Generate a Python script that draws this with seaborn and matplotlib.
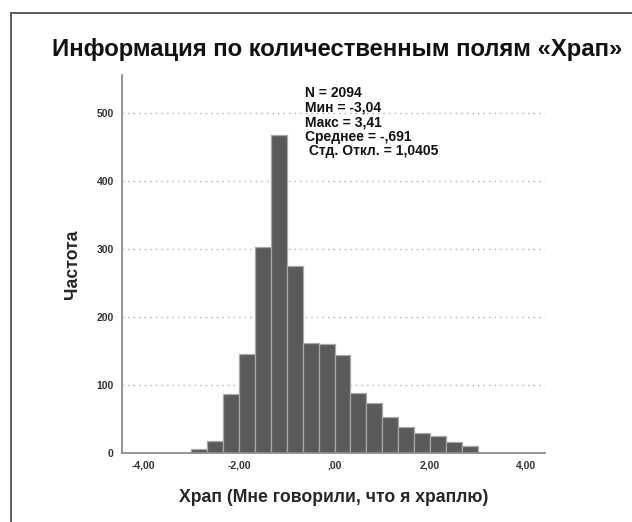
import numpy as np
import pandas as pd
import matplotlib
matplotlib.use("Agg")
import matplotlib.pyplot as plt
from matplotlib.lines import Line2D
import seaborn as sns

# Histogram of the standardised snoring score (SPSS style output)
bin_counts = [5, 17, 86, 145, 302, 467, 274, 161, 160, 143, 88, 73, 53, 38, 29, 25, 16, 9]
bin_start = -3.0
bin_width = 1 / 3

x_ticks = [-4.0, -2.0, 0.0, 2.0, 4.0]
x_tick_labels = ["-4,00", "-2,00", ",00", "2,00", "4,00"]
y_ticks = [0, 100, 200, 300, 400, 500]

stats_lines = ["N = 2094", "Мин = -3,04", "Макс = 3,41", "Среднее = -,691", " Стд. Откл. = 1,0405"]

title = "Информация по количественным полям «Храп»"
x_label = "Храп (Мне говорили, что я храплю)"
y_label = "Частота"

n_bins = len(bin_counts)
centers = bin_start + bin_width * (np.arange(n_bins) + 0.5)
df = pd.DataFrame({"value": centers, "count": bin_counts})

sns.set_theme(style="white")
plt.rcParams["font.family"] = ["Liberation Sans", "DejaVu Sans"]

fig = plt.figure(figsize=(6.32, 5.22), dpi=100)
ax = fig.add_axes([0.193, 0.133, 0.669, 0.723])

sns.histplot(data=df, x="value", weights="count", binwidth=bin_width,
             binrange=(bin_start, bin_start + n_bins * bin_width), ax=ax,
             color="#5a5a5a", edgecolor="#a8a8a8", linewidth=0.9, alpha=1.0)

ax.set_xlim(-4.45, 4.4)
ax.set_ylim(0, 555)
ax.set_xticks(x_ticks)
ax.set_xticklabels(x_tick_labels)
ax.set_yticks(y_ticks)
ax.tick_params(axis="both", length=0, labelsize=7.5, labelcolor="#333333", pad=6)
for lab in ax.get_xticklabels() + ax.get_yticklabels():
    lab.set_fontweight("bold")

ax.yaxis.grid(True, linestyle=(0, (1, 3)), color="#b0b0b0", linewidth=1.0)
ax.xaxis.grid(False)
ax.set_axisbelow(True)

for side in ("top", "right"):
    ax.spines[side].set_visible(False)
for side in ("left", "bottom"):
    ax.spines[side].set_color("#8c8c8c")
    ax.spines[side].set_linewidth(1.3)

ax.set_xlabel(x_label, fontsize=12.7, fontweight="bold", labelpad=13)
ax.set_ylabel(y_label, fontsize=12.7, fontweight="bold", labelpad=11)

fig.text(0.533, 0.905, title, ha="center", va="center",
         fontsize=17.2, fontweight="bold", color="#111111")

# summary statistics block, one line per statistic
y0 = 0.941
for i, line in enumerate(stats_lines):
    ax.text(0.433, y0 - i * 0.0381, line, transform=ax.transAxes,
            ha="left", va="baseline", fontsize=10, fontweight="bold", color="#111111")

# outer frame around the chart
fig.add_artist(Line2D([11 / 632, 11 / 632], [0, 1 - 13 / 522], transform=fig.transFigure,
                      color="#505050", linewidth=1.3))
fig.add_artist(Line2D([11 / 632, 1], [1 - 13 / 522, 1 - 13 / 522], transform=fig.transFigure,
                      color="#505050", linewidth=1.3))

fig.savefig("out.png", dpi=100)
